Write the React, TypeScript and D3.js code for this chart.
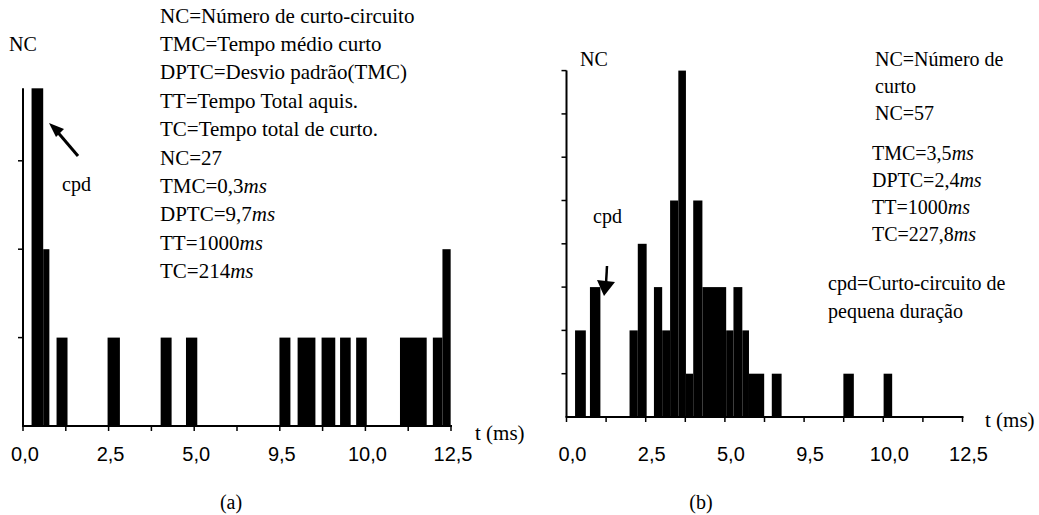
import React from "react";
import * as d3 from "d3";

// Shared axis tick labels (every second tick is labelled)
const tickLabels = ["0,0", "2,5", "5,0", "9,5", "10,0", "12,5"];
const tickStep = 1.25;
const tMax = 12.5;

// Panel (a): histogram bins (ms) and counts
const aBinStart = [0.25, 0.59, 0.98, 2.47, 4.02, 4.76, 7.49, 8.02, 8.72, 9.26, 9.73, 11.01, 11.97, 12.25];
const aBinEnd = [0.59, 0.77, 1.3, 2.83, 4.34, 5.09, 7.81, 8.54, 9.12, 9.57, 10.04, 11.79, 12.25, 12.49];
const aCounts = [3.82, 2, 1, 1, 1, 1, 1, 1, 1, 1, 1, 1, 1, 2];
const aYTicks = [1, 2, 3];
const aYTop = 3.82;

// Panel (b): histogram bins (ms) and counts
const bBinStart = [0.27, 0.74, 1.99, 2.25, 2.76, 3.02, 3.27, 3.53, 3.77, 4.0, 4.29, 5.04, 5.27, 5.55, 5.76, 6.48, 8.74, 10.01];
const bBinEnd = [0.61, 1.07, 2.25, 2.53, 3.02, 3.27, 3.53, 3.77, 4.0, 4.29, 5.04, 5.27, 5.55, 5.76, 6.24, 6.79, 9.07, 10.28];
const bCounts = [2, 3, 2, 4, 3, 2, 5, 8, 1, 5, 3, 2, 3, 2, 1, 1, 1, 1];
const bYTicks = [1, 2, 3, 4, 5, 6, 7, 8];
const bYTop = 8;

// Annotation text
const aDefinitions = [
  "NC=Número de curto-circuito",
  "TMC=Tempo médio curto",
  "DPTC=Desvio padrão(TMC)",
  "TT=Tempo Total aquis.",
  "TC=Tempo total de curto.",
];
const aValues = [
  ["NC=27", ""],
  ["TMC=0,3", "ms"],
  ["DPTC=9,7", "ms"],
  ["TT=1000", "ms"],
  ["TC=214", "ms"],
];
const bDefinitions = ["NC=Número de", "curto", "NC=57"];
const bValues = [
  ["TMC=3,5", "ms"],
  ["DPTC=2,4", "ms"],
  ["TT=1000", "ms"],
  ["TC=227,8", "ms"],
];
const bNote = ["cpd=Curto-circuito de", "pequena duração"];

const SERIF = "Liberation Serif, DejaVu Serif, serif";
const SANS = "Liberation Sans, Arial, sans-serif";

type TProps = {
  x: number;
  y: number;
  size?: number;
  anchor?: string;
  children?: React.ReactNode;
};

// Serif annotation text
function T({ x, y, size = 20, anchor = "start", children }: TProps) {
  return (
    <text x={x} y={y} textAnchor={anchor} style={{ fontFamily: SERIF, fontSize: size }} fill="#000">
      {children}
    </text>
  );
}

type PanelProps = {
  x0: number;
  x1: number;
  yBase: number;
  yUnit: number;
  yTop: number;
  yTicks: number[];
  starts: number[];
  ends: number[];
  counts: number[];
  labelDx: number;
};

function Histogram({ x0, x1, yBase, yUnit, yTop, yTicks, starts, ends, counts, labelDx }: PanelProps) {
  const x = d3.scaleLinear().domain([0, tMax]).range([x0, x1]);
  const y = d3.scaleLinear().domain([0, 1]).range([yBase, yBase - yUnit]);
  const xTicks = d3.range(0, tMax + 1e-6, tickStep);
  return (
    <g>
      {counts.map((c, i) => (
        <rect
          key={i}
          x={x(starts[i])}
          y={y(c)}
          width={x(ends[i]) - x(starts[i])}
          height={y(0) - y(c)}
          fill="#000"
        />
      ))}
      {/* y axis */}
      <line x1={x0} x2={x0} y1={y(0)} y2={y(yTop)} stroke="#000" strokeWidth={2} />
      {yTicks.map((t) => (
        <line key={t} x1={x0 - 5} x2={x0} y1={y(t)} y2={y(t)} stroke="#000" strokeWidth={1.5} />
      ))}
      {/* x axis */}
      <line x1={x0 - 1} x2={x1 + 1} y1={y(0)} y2={y(0)} stroke="#000" strokeWidth={2} />
      {xTicks.map((t) => (
        <line key={t} x1={x(t)} x2={x(t)} y1={y(0)} y2={y(0) + 5} stroke="#000" strokeWidth={1.5} />
      ))}
      {tickLabels.map((lab, i) => (
        <text
          key={lab}
          x={x(i * 2 * tickStep) + labelDx}
          y={460.5}
          textAnchor="middle"
          style={{ fontFamily: SANS, fontSize: 20 }}
          fill="#000"
        >
          {lab}
        </text>
      ))}
    </g>
  );
}

export default function App() {
  return (
    <svg
      width={1039}
      height={515}
      style={{ position: "absolute", left: 0, top: 0, background: "#fff" }}
    >
      <rect width={1039} height={515} fill="#fff" />

      {/* Panel (a) */}
      <Histogram
        x0={23}
        x1={451}
        yBase={426}
        yUnit={88.4}
        yTop={aYTop}
        yTicks={aYTicks}
        starts={aBinStart}
        ends={aBinEnd}
        counts={aCounts}
        labelDx={2}
      />
      <T x={9} y={51}>NC</T>
      <T x={475} y={440} size={21}>t (ms)</T>
      <T x={231} y={509} anchor="middle">(a)</T>
      {aDefinitions.map((s, i) => (
        <T key={s} x={160} y={22.5 + i * 28.4} size={21}>{s}</T>
      ))}
      {aValues.map(([s, u], i) => (
        <T key={s} x={160} y={22.5 + (i + 5) * 28.4} size={21}>
          {s}
          <tspan fontStyle="italic">{u}</tspan>
        </T>
      ))}
      <T x={62} y={191}>cpd</T>
      {/* arrow pointing at the short-circuit peak */}
      <line x1={78} y1={156} x2={55} y2={129} stroke="#000" strokeWidth={3} />
      <path d="M49,123 L64,129 L56,137 Z" fill="#000" />

      {/* Panel (b) */}
      <Histogram
        x0={566.5}
        x1={962.5}
        yBase={417}
        yUnit={43.3}
        yTop={bYTop}
        yTicks={bYTicks}
        starts={bBinStart}
        ends={bBinEnd}
        counts={bCounts}
        labelDx={6}
      />
      <T x={580} y={66}>NC</T>
      <T x={985} y={427} size={21}>t (ms)</T>
      <T x={701} y={509} anchor="middle">(b)</T>
      {bDefinitions.map((s, i) => (
        <T key={s} x={875} y={66 + i * 26.9}>{s}</T>
      ))}
      {bValues.map(([s, u], i) => (
        <T key={s} x={872} y={160 + i * 27}>
          {s}
          <tspan fontStyle="italic">{u}</tspan>
        </T>
      ))}
      {bNote.map((s, i) => (
        <T key={s} x={828} y={290 + i * 28}>{s}</T>
      ))}
      <T x={593} y={223}>cpd</T>
      <line x1={607} y1={266} x2={606} y2={284} stroke="#000" strokeWidth={2.5} />
      <path d="M597,280 L615,282 L604,296 Z" fill="#000" />
    </svg>
  );
}
